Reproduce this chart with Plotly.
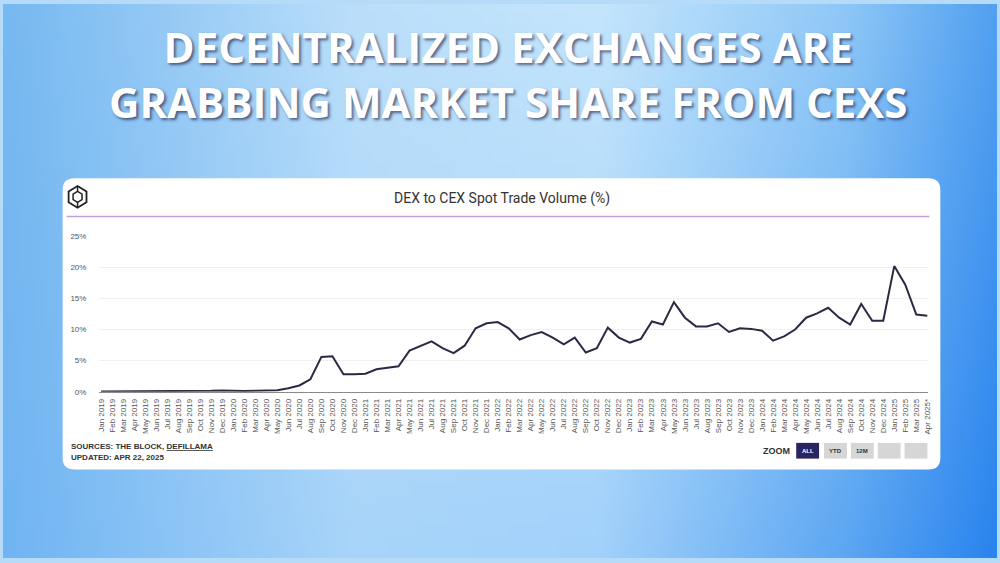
import base64
import struct
import zlib

import plotly.graph_objects as go

# DEX to CEX spot trade volume (%), monthly, Jan 2019 .. Apr 2025
months = []
for year in range(2019, 2026):
    for m in ['Jan', 'Feb', 'Mar', 'Apr', 'May', 'Jun', 'Jul', 'Aug', 'Sep', 'Oct', 'Nov', 'Dec']:
        months.append(f'{m} {year}')
months = months[:76]
months[-1] = 'Apr 2025*'

dex_share = [
    0.05, 0.05, 0.05, 0.05, 0.05, 0.05, 0.05, 0.05, 0.08, 0.1, 0.15, 0.2,      # 2019
    0.12, 0.12, 0.15, 0.18, 0.25, 0.55, 1.0, 2.0, 5.6, 5.7, 2.8, 2.8,          # 2020
    2.9, 3.6, 3.8, 4.1, 6.6, 7.3, 8.1, 7.0, 6.2, 7.4, 10.2, 11.0,              # 2021
    11.2, 10.2, 8.4, 9.1, 9.6, 8.7, 7.6, 8.7, 6.3, 7.0, 10.3, 8.7,             # 2022
    7.9, 8.5, 11.3, 10.8, 14.4, 11.9, 10.5, 10.5, 11.0, 9.6, 10.2, 10.1,       # 2023
    9.8, 8.2, 8.9, 10.0, 11.9, 12.6, 13.5, 11.9, 10.8, 14.1, 11.4, 11.4,       # 2024
    20.2, 17.2, 12.4, 12.2,                                                    # 2025
]

y_ticks = [0, 5, 10, 15, 20, 25]
y_ticktext = ['0%', '5%', '10%', '15%', '20%', '25%']

W, H = 1000, 563


def px(x):
    return x / W


def py(y):
    return 1 - y / H


# background gradient, built as a small png and stretched over the page
top_stops = [(0.0, (118, 184, 240)), (0.35, (186, 222, 250)), (0.6, (196, 229, 252)),
             (0.85, (142, 199, 246)), (1.0, (82, 160, 240))]
bottom_stops = [(0.0, (112, 180, 242)), (0.35, (168, 212, 249)), (0.6, (162, 209, 250)),
                (0.85, (92, 166, 242)), (1.0, (42, 132, 238))]


def pick(stops, s):
    for (a, ca), (b, cb) in zip(stops, stops[1:]):
        if a <= s <= b:
            t = (s - a) / (b - a)
            return [ca[k] + (cb[k] - ca[k]) * t for k in range(3)]
    return list(stops[-1][1])


def gradient_png(w=200, h=40):
    raw = b''
    for j in range(h):
        t = j / (h - 1)
        row = bytearray([0])
        for i in range(w):
            s = i / (w - 1)
            top, bot = pick(top_stops, s), pick(bottom_stops, s)
            row += bytes(int(round(a + (b - a) * t)) for a, b in zip(top, bot))
        raw += bytes(row)

    def chunk(tag, data):
        return struct.pack('>I', len(data)) + tag + data + struct.pack('>I', zlib.crc32(tag + data) & 0xffffffff)

    png = (b'\x89PNG\r\n\x1a\n'
           + chunk(b'IHDR', struct.pack('>IIBBBBB', w, h, 8, 2, 0, 0, 0))
           + chunk(b'IDAT', zlib.compress(raw))
           + chunk(b'IEND', b''))
    return 'data:image/png;base64,' + base64.b64encode(png).decode()


def rounded_rect(x0, y0, x1, y1, r):
    rx, ry = r / W, r / H
    a, b, c, d = px(x0), py(y1), px(x1), py(y0)   # left, bottom, right, top in paper
    return (f'M{a + rx},{d} L{c - rx},{d} Q{c},{d} {c},{d - ry} L{c},{b + ry} Q{c},{b} {c - rx},{b} '
            f'L{a + rx},{b} Q{a},{b} {a},{b + ry} L{a},{d - ry} Q{a},{d} {a + rx},{d} Z')


def hexagon(cx, cy, hw, hh):
    pts = [(cx, cy - hh), (cx + hw, cy - hh / 2), (cx + hw, cy + hh / 2),
           (cx, cy + hh), (cx - hw, cy + hh / 2), (cx - hw, cy - hh / 2)]
    return 'M' + ' L'.join(f'{px(x)},{py(y)}' for x, y in pts) + ' Z'


def note(text, x, y, size, color='#333333', family='Liberation Sans', xanchor='center', **font_extra):
    return dict(text=text, x=px(x), y=py(y), xref='paper', yref='paper', showarrow=False,
                xanchor=xanchor, yanchor='middle',
                font=dict(family=family, size=size, color=color, **font_extra))


fig = go.Figure(
    data=go.Scatter(
        x=months,
        y=dex_share,
        mode='lines',
        line=dict(color='#2b2a45', width=2),
        hovertemplate='%{x}: %{y:.1f}%<extra></extra>',
    )
)

shapes = [
    # white card
    dict(type='path', xref='paper', yref='paper', layer='below',
         path=rounded_rect(60, 177, 943, 473, 12), fillcolor='white', line=dict(width=0)),
    # purple rule under the chart title
    dict(type='line', xref='paper', yref='paper', layer='below',
         x0=px(64), x1=px(932), y0=py(216), y1=py(216), line=dict(color='#c79fd9', width=1.5)),
    # The Block logo
    dict(type='path', xref='paper', yref='paper', path=hexagon(75, 196, 9, 11),
         line=dict(color='#222222', width=1.8)),
    dict(type='path', xref='paper', yref='paper', path=hexagon(75, 196, 4.5, 5.5),
         line=dict(color='#222222', width=1.5)),
    dict(type='line', xref='paper', yref='paper', x0=px(75), x1=px(75), y0=py(185), y1=py(190.5),
         line=dict(color='#222222', width=1.5)),
    dict(type='line', xref='paper', yref='paper', x0=px(75), x1=px(75), y0=py(201.5), y1=py(207),
         line=dict(color='#222222', width=1.5)),
]

# zoom buttons (ALL, YTD, 12M and two blank ones)
buttons = [('ALL', 798, 821, '#2b2463', 'white'), ('YTD', 826, 849, '#d6d6d6', '#333333'),
           ('12M', 853, 876, '#d6d6d6', '#333333'), ('', 880, 903, '#d6d6d6', '#333333'),
           ('', 907, 930, '#d6d6d6', '#333333')]

title_shadow = '2px 2px 3px rgba(0,0,40,0.55)'
annotations = [
    note('<b>DECENTRALIZED EXCHANGES ARE</b><br><b>GRABBING MARKET SHARE FROM CEXS</b>',
         508, 71, 42, 'white', 'Open Sans', shadow=title_shadow),
    note('DEX to CEX Spot Trade Volume (%)', 502, 198, 14, '#333333', 'Roboto'),
    note('<b>SOURCES: THE BLOCK, <span style="text-decoration:underline">DEFILLAMA</span></b>',
         66, 450, 8, xanchor='left'),
    note('<b>UPDATED: APR 22, 2025</b>', 66, 461, 8, xanchor='left'),
    note('<b>ZOOM</b>', 794, 454, 9, xanchor='right'),
]

for label, x0, x1, fill, txt in buttons:
    shapes.append(dict(type='rect', xref='paper', yref='paper', x0=px(x0), x1=px(x1),
                       y0=py(462), y1=py(446), fillcolor=fill, line=dict(width=0)))
    if label:
        annotations.append(note(f'<b>{label}</b>', (x0 + x1) / 2, 454, 6, txt))

fig.update_layout(
    width=W, height=H,
    margin=dict(l=0, r=0, t=0, b=0),
    paper_bgcolor='#b5dbf8',
    plot_bgcolor='rgba(0,0,0,0)',
    showlegend=False,
    images=[dict(source=gradient_png(), xref='paper', yref='paper', x=0, y=1, sizex=1, sizey=1,
                 xanchor='left', yanchor='top', sizing='stretch', layer='below')],
    shapes=shapes,
    annotations=annotations,
    xaxis=dict(
        domain=[px(97), px(931)],
        type='category',
        range=[-0.15, 75.1],
        tickmode='array',
        tickvals=months,
        ticktext=months,
        tickangle=-90,
        tickfont=dict(family='Liberation Sans', size=8, color='#555555'),
        showgrid=False,
        showline=True,
        linecolor='#8a8a8a',
        linewidth=1,
        ticks='',
        ticklabelstandoff=3,
        fixedrange=True,
    ),
    yaxis=dict(
        domain=[py(394), py(236)],
        range=[0, 25],
        tickmode='array',
        tickvals=y_ticks,
        ticktext=y_ticktext,
        tickfont=dict(family='Liberation Sans', size=8, color='#555555'),
        showgrid=True,
        gridcolor='#f0f0f0',
        zeroline=False,
        showline=False,
        ticklabelstandoff=12,
        fixedrange=True,
    ),
)

# drop the browser's default body margin so the 1000x563 figure fills the window
fig.write_html('out.html', config=dict(displayModeBar=False),
               post_script="document.body.style.margin='0';")
